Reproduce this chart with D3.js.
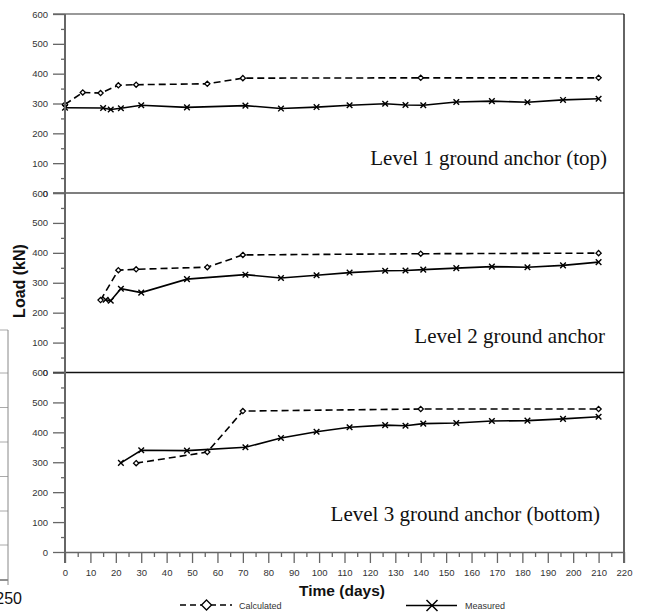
<!DOCTYPE html>
<html><head><meta charset="utf-8">
<script src="https://cdn.jsdelivr.net/npm/d3@7"></script>
<style>body{margin:0;background:#fff}svg{display:block}</style>
</head><body>
<svg id="c" width="645" height="615"></svg>
<script>
// ---- data ----
const panelTitles = ["Level 1 ground anchor (top)", "Level 2 ground anchor", "Level 3 ground anchor (bottom)"];
const calcDays1 = [0, 7, 14, 21, 28, 56, 70, 140, 210];
const calcLoad1 = [297, 337, 335, 361, 363, 366, 385, 386, 386];
const measDays1 = [0, 15, 18, 22, 30, 48, 71, 85, 99, 112, 126, 134, 141, 154, 168, 182, 196, 210];
const measLoad1 = [286, 285, 280, 284, 294, 287, 293, 283, 288, 294, 299, 295, 294, 305, 308, 304, 312, 316];
const calcDays2 = [14, 21, 28, 56, 70, 140, 210];
const calcLoad2 = [242, 342, 345, 352, 393, 397, 399];
const measDays2 = [16, 18, 22, 30, 48, 71, 85, 99, 112, 126, 134, 141, 154, 168, 182, 196, 210];
const measLoad2 = [243, 240, 280, 267, 312, 327, 316, 325, 334, 340, 341, 344, 349, 354, 352, 358, 369];
const calcDays3 = [28, 56, 70, 140, 210];
const calcLoad3 = [297, 334, 471, 478, 478];
const measDays3 = [22, 30, 48, 71, 85, 99, 112, 126, 134, 141, 154, 168, 182, 196, 210];
const measLoad3 = [298, 340, 339, 350, 381, 402, 417, 424, 422, 429, 431, 438, 439, 445, 452];
const yTicks = [0, 100, 200, 300, 400, 500, 600];
const xTicks = d3.range(0, 221, 10);
const seriesNames = ["Calculated", "Measured"];

const panels = [
  {title: panelTitles[0], calc: calcDays1.map((d,i)=>[d,calcLoad1[i]]), meas: measDays1.map((d,i)=>[d,measLoad1[i]])},
  {title: panelTitles[1], calc: calcDays2.map((d,i)=>[d,calcLoad2[i]]), meas: measDays2.map((d,i)=>[d,measLoad2[i]])},
  {title: panelTitles[2], calc: calcDays3.map((d,i)=>[d,calcLoad3[i]]), meas: measDays3.map((d,i)=>[d,measLoad3[i]])}
];

// ---- layout ----
const svg = d3.select("#c");
const X0 = 65, X1 = 624;
const panelTop = [14, 193, 372.5], panelBot = [193, 372.5, 552];
const x = d3.scaleLinear().domain([0, 220]).range([X0, X1]);
const AX = "#666";

// stray fragment of neighbouring figure at left edge
const frag = svg.append("g");
[330, 373, 407.5, 442, 476.5, 511, 545].forEach(yy =>
  frag.append("line").attr("x1", 0).attr("x2", 8).attr("y1", yy).attr("y2", yy).attr("stroke", "#aaa").attr("stroke-width", 1));
frag.append("line").attr("x1", 0).attr("x2", 8).attr("y1", 580).attr("y2", 580).attr("stroke", "#222").attr("stroke-width", 1);
frag.append("line").attr("x1", 8).attr("x2", 8).attr("y1", 330).attr("y2", 585).attr("stroke", "#888").attr("stroke-width", 1);
frag.append("text").attr("x", 22).attr("y", 604).attr("text-anchor", "end")
  .attr("font-family", "Liberation Sans, Arial, sans-serif").attr("font-size", 16).attr("fill", "#111").text("250");

const line = (ys) => d3.line().x(d => x(d[0])).y(d => ys(d[1]));

function diamond(g, cx, cy, r) {
  g.append("path").attr("d", `M${cx},${cy-r}L${cx+r},${cy}L${cx},${cy+r}L${cx-r},${cy}Z`)
    .attr("fill", "#fff").attr("stroke", "#000").attr("stroke-width", 1.3);
}
function cross(g, cx, cy, r, w) {
  g.append("path").attr("d", `M${cx-r},${cy-r}L${cx+r},${cy+r}M${cx-r},${cy+r}L${cx+r},${cy-r}`)
    .attr("stroke", "#000").attr("stroke-width", w).attr("fill", "none");
}

panels.forEach((p, i) => {
  const y = d3.scaleLinear().domain([0, 600]).range([panelBot[i], panelTop[i]]);
  const g = svg.append("g");
  g.append("line").attr("x1", 53).attr("x2", X1).attr("y1", y(600)).attr("y2", y(600))
    .attr("stroke", i === 2 ? "#111" : (i === 1 ? "#555" : "#777")).attr("stroke-width", 1.3);
  const ax = d3.axisLeft(y).tickValues(yTicks).tickSize(12).tickPadding(5).tickFormat(d3.format("d"));
  const ag = g.append("g").attr("transform", `translate(${X0},0)`).call(ax);
  ag.select(".domain").remove();
  ag.selectAll(".tick line").attr("stroke", AX).attr("stroke-width", 1.3);
  ag.selectAll(".tick text").attr("fill", "#333").attr("font-size", 9.5)
    .attr("font-family", "Liberation Sans, Arial, sans-serif");
  const mg = g.append("g").attr("transform", `translate(${X0},0)`)
    .call(d3.axisLeft(y).tickValues([50,150,250,350,450,550]).tickSize(4).tickFormat(""));
  mg.select(".domain").remove();
  mg.selectAll(".tick line").attr("stroke", AX).attr("stroke-width", 1.3);

  g.append("path").datum(p.calc).attr("d", line(y)).attr("fill", "none")
    .attr("stroke", "#000").attr("stroke-width", 1.6).attr("stroke-dasharray", "7,4");
  g.append("path").datum(p.meas).attr("d", line(y)).attr("fill", "none")
    .attr("stroke", "#000").attr("stroke-width", 1.6);
  p.meas.forEach(d => cross(g, x(d[0]), y(d[1]), 2.8, 1.4));
  p.calc.forEach(d => diamond(g, x(d[0]), y(d[1]), 2.6));

  g.append("text").attr("x", [607, 605, 600][i]).attr("y", [164.5, 342.5, 520.5][i])
    .attr("text-anchor", "end").attr("font-family", "Liberation Serif, 'Times New Roman', serif")
    .attr("font-size", 21).attr("fill", "#111").text(p.title);
});

svg.append("line").attr("x1", X0).attr("x2", X0).attr("y1", 14).attr("y2", 563).attr("stroke", AX).attr("stroke-width", 2);
svg.append("line").attr("x1", X1).attr("x2", X1).attr("y1", 14).attr("y2", 563).attr("stroke", "#111").attr("stroke-width", 1.3);

const xg = svg.append("g").attr("transform", "translate(0,552)")
  .call(d3.axisBottom(x).tickValues(xTicks).tickSize(11).tickPadding(6).tickFormat(d3.format("d")));
xg.select(".domain").attr("d", `M${X0},0.5H${X1}`).attr("stroke", AX).attr("stroke-width", 1.5);
xg.selectAll(".tick line").attr("stroke", AX).attr("stroke-width", 1.3);
xg.selectAll(".tick text").attr("fill", "#333").attr("font-size", 9.5)
  .attr("font-family", "Liberation Sans, Arial, sans-serif");
const xm = svg.append("g").attr("transform", "translate(0,552)")
  .call(d3.axisBottom(x).tickValues(d3.range(5, 220, 10)).tickSize(5).tickFormat(""));
xm.select(".domain").remove();
xm.selectAll(".tick line").attr("stroke", AX).attr("stroke-width", 1.3);

svg.append("text").attr("transform", "translate(25,281) rotate(-90)").attr("text-anchor", "middle")
  .attr("font-family", "Liberation Sans, Arial, sans-serif").attr("font-weight", "bold")
  .attr("font-size", 16).attr("fill", "#111").text("Load (kN)");
svg.append("text").attr("x", 342).attr("y", 596).attr("text-anchor", "middle")
  .attr("font-family", "Liberation Sans, Arial, sans-serif").attr("font-weight", "bold")
  .attr("font-size", 15.5).attr("fill", "#111").text("Time (days)");

const lg = svg.append("g");
lg.append("line").attr("x1", 180).attr("x2", 232).attr("y1", 605).attr("y2", 605)
  .attr("stroke", "#000").attr("stroke-width", 1.6).attr("stroke-dasharray", "6,4");
diamond(lg, 206.5, 605, 5);
lg.append("text").attr("x", 239).attr("y", 608.5).attr("font-family", "Liberation Sans, Arial, sans-serif")
  .attr("font-size", 9).attr("fill", "#333").text(seriesNames[0]);
lg.append("line").attr("x1", 406).attr("x2", 457).attr("y1", 605.5).attr("y2", 605.5)
  .attr("stroke", "#000").attr("stroke-width", 1.6);
cross(lg, 432, 605.5, 5.5, 1.5);
lg.append("text").attr("x", 465).attr("y", 609).attr("font-family", "Liberation Sans, Arial, sans-serif")
  .attr("font-size", 9).attr("fill", "#333").text(seriesNames[1]);
</script>
</body></html>
